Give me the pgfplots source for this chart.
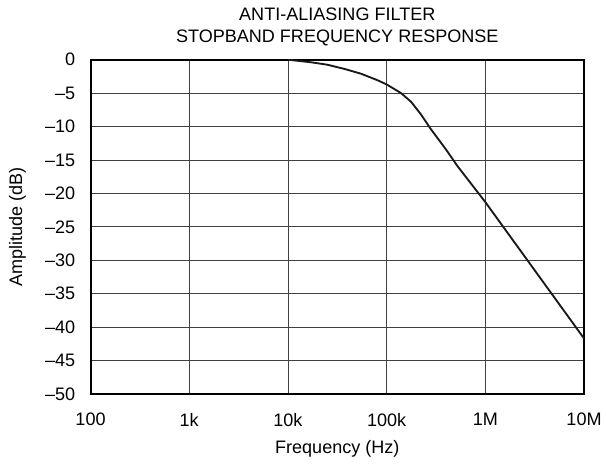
\documentclass[border=0pt]{standalone}
\usepackage{pgfplots}
\pgfplotsset{compat=1.18}
\usepackage{fontspec}
\setmainfont{Liberation Sans}
\usetikzlibrary{calc}

\begin{document}
\begin{tikzpicture}[font=\fontsize{13.6}{16.5}\selectfont]
\begin{axis}[
	name=ax,
	scale only axis,
	width=372pt,
	height=252pt,
	xmode=log,
	xmin=100, xmax=1e7,
	ymin=-50, ymax=0,
	xtick={100,1000,10000,100000,1000000,10000000},
	xticklabels={100,1k,10k,100k,1M,10M},
	ytick={-50,-45,-40,-35,-30,-25,-20,-15,-10,-5,0},
	yticklabels={\textendash50,\textendash45,\textendash40,\textendash35,\textendash30,\textendash25,\textendash20,\textendash15,\textendash10,\textendash5,0},
	xminorticks=false,
	yminorticks=false,
	major tick length=0pt,
	minor tick length=0pt,
	grid=major,
	major grid style={black!75, line width=0.6pt},
	axis line style={black, line width=1.5pt},
	xticklabel style={yshift=-11pt},
	yticklabel style={xshift=-8pt},
	xlabel={Frequency (Hz)},
	ylabel={Amplitude (dB)},
	every axis x label/.style={at={(axis description cs:0.5,0)}, anchor=base, yshift=-44.5pt},
	every axis y label/.style={at={(axis description cs:-0.148,0.5)}, anchor=center, rotate=90},
	title={ANTI-ALIASING FILTER\\STOPBAND FREQUENCY RESPONSE},
	title style={align=center, anchor=south, inner sep=0pt, yshift=4.5pt},
]
\addplot[black!90, line width=1.4pt] coordinates {
	(10000,0) (17400,-0.4) (25000,-0.75) (37800,-1.4) (55000,-2.1) (81700,-3.1)
	(100000,-3.7) (140000,-5.0) (177000,-6.3) (223000,-8.2) (281000,-10.4)
	(398000,-13.4) (521000,-15.9) (1000000,-21.3) (10000000,-41.7)
};
\end{axis}
\path ($(ax.south west)+(-68.25pt,-52.5pt)$) rectangle ($(ax.north east)+(14.25pt,45pt)$);
\end{tikzpicture}
\end{document}
